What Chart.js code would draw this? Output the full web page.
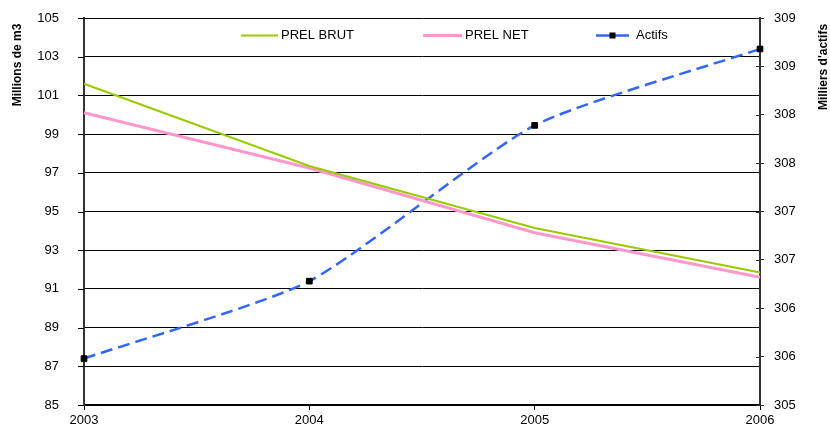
<!DOCTYPE html>
<html>
<head>
<meta charset="utf-8">
<script src="https://cdn.jsdelivr.net/npm/chart.js@4/dist/chart.umd.min.js"></script>
<style>
  body { margin: 0; background: #fff; }
  #chart { display: block; }
</style>
</head>
<body>
<canvas id="chart" width="830" height="429"></canvas>
<script>
// values
const years = ['2003', '2004', '2005', '2006'];
const prel_brut = [101.6, 97.35, 94.15, 91.85];
const prel_net = [100.1, 97.25, 93.9, 91.6];
const actifs = [305.48, 306.28, 307.89, 308.68];

const FONT = "'Liberation Sans', Arial, sans-serif";

// legend + axis titles + short tick marks
const extras = {
    id: 'extras',
    afterDraw(chart) {
        const ctx = chart.ctx;
        const ds = chart.data.datasets;
        ctx.save();

        // axis titles, rotated
        ctx.font = 'bold 12px ' + FONT;
        ctx.fillStyle = '#000';
        ctx.textAlign = 'center';
        ctx.textBaseline = 'middle';
        ctx.save();
        ctx.translate(18, 65);
        ctx.rotate(-Math.PI / 2);
        ctx.fillText('Millions de m3', 0, 0);
        ctx.restore();
        ctx.save();
        ctx.translate(824, 67);
        ctx.rotate(-Math.PI / 2);
        ctx.fillText("Milliers d'actifs", 0, 0);
        ctx.restore();

        // left ticks: short marks outside the axis
        const y = chart.scales.y;
        ctx.strokeStyle = '#000';
        ctx.lineWidth = 1;
        y.ticks.forEach(t => {
            const py = Math.round(y.getPixelForValue(t.value)) + 0.5;
            ctx.beginPath();
            ctx.moveTo(y.right - 6, py);
            ctx.lineTo(y.right, py);
            ctx.stroke();
        });

        // right ticks cross the axis line
        const y1 = chart.scales.y1;
        ctx.strokeStyle = '#333';
        y1.ticks.forEach(t => {
            const py = Math.round(y1.getPixelForValue(t.value)) + 0.5;
            ctx.beginPath();
            ctx.moveTo(y1.left - 4, py);
            ctx.lineTo(y1.left, py);
            ctx.stroke();
        });

        // legend inside the plot
        const items = [
            {x0: 241, x1: 278, tx: 281},
            {x0: 423, x1: 462, tx: 465},
            {x0: 596, x1: 629, tx: 636}
        ];
        const ly = 35.5;
        ctx.font = '13px ' + FONT;
        ctx.textAlign = 'left';
        items.forEach((it, i) => {
            const d = ds[i];
            ctx.strokeStyle = d.borderColor;
            ctx.lineWidth = d.borderWidth;
            ctx.beginPath();
            ctx.moveTo(it.x0, ly);
            ctx.lineTo(it.x1, ly);
            ctx.stroke();
            if (d.pointRadius) {
                ctx.fillStyle = '#000';
                ctx.fillRect((it.x0 + it.x1) / 2 - 3, ly - 3, 6, 6);
            }
            ctx.fillStyle = '#000';
            ctx.fillText(d.label, it.tx, ly);
        });
        ctx.restore();
    }
};

const ctx = document.getElementById('chart').getContext('2d');
const myChart = new Chart(ctx, {
    type: 'line',
    data: {
        labels: years,
        datasets: [{
            label: 'PREL BRUT',
            data: prel_brut,
            yAxisID: 'y',
            borderColor: '#99CC00',
            borderWidth: 2,
            pointRadius: 0,
            tension: 0
        },
        {
            label: 'PREL NET',
            data: prel_net,
            yAxisID: 'y',
            borderColor: '#FF99CC',
            borderWidth: 3,
            pointRadius: 0,
            tension: 0
        },
        {
            label: 'Actifs',
            data: actifs,
            yAxisID: 'y1',
            borderColor: '#3366FF',
            borderWidth: 2.5,
            borderDash: [12, 6],
            pointStyle: 'rect',
            pointRadius: 4,
            pointBackgroundColor: '#000',
            pointBorderColor: '#000',
            pointBorderWidth: 1,
            tension: 0.2,
            clip: false
        }]
    },
    options: {
        responsive: false,
        animation: false,
        devicePixelRatio: 1,
        layout: { padding: { top: 18 } },
        plugins: {
            legend: { display: false },
            tooltip: { enabled: false }
        },
        scales: {
            x: {
                offset: false,
                grid: { drawOnChartArea: false, tickLength: 5, color: '#000' },
                border: { color: '#000', width: 2 },
                ticks: { color: '#000', font: { family: FONT, size: 13 }, padding: 3, maxRotation: 0 },
                afterFit: s => { s.height = 24; }
            },
            y: {
                position: 'left',
                min: 85,
                max: 105,
                grid: { color: '#000', lineWidth: 1, tickLength: 21, tickColor: 'rgba(0,0,0,0)' },
                border: { color: '#333', width: 2 },
                ticks: { stepSize: 2, color: '#000', font: { family: FONT, size: 13 }, padding: 4 },
                afterFit: s => { s.width = 84; }
            },
            y1: {
                position: 'right',
                min: 305,
                max: 309,
                grid: { drawOnChartArea: false, tickLength: 4, color: '#333' },
                border: { color: '#333', width: 2 },
                ticks: {
                    stepSize: 0.5,
                    color: '#000',
                    font: { family: FONT, size: 13 },
                    padding: 10,
                    callback: function(value) { return Math.round(value); }
                },
                afterFit: s => { s.width = 70; }
            }
        }
    },
    plugins: [extras]
});
</script>
</body>
</html>
